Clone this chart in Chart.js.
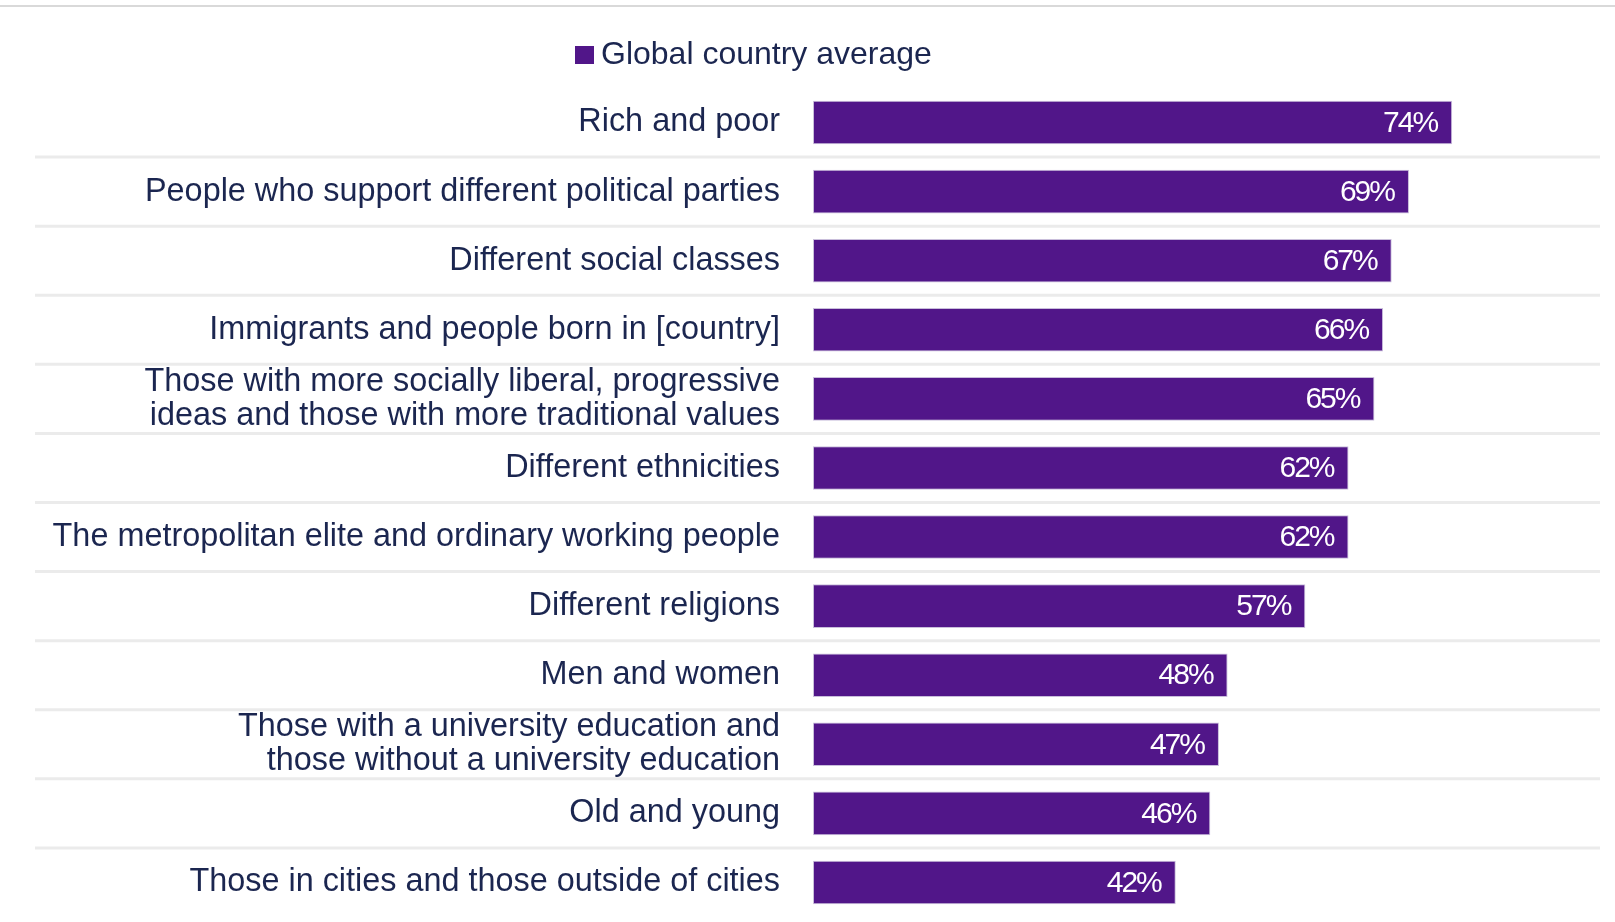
<!DOCTYPE html>
<html>
<head>
<meta charset="utf-8">
<script src="https://cdn.jsdelivr.net/npm/chart.js@4"></script>
<style>
  html, body { margin: 0; padding: 0; background: #ffffff; }
  #wrap { width: 1615px; height: 922px; position: relative; }
</style>
</head>
<body>
<div id="wrap"><canvas id="c"></canvas></div>
<script>
const seriesName = "Global country average";
const categories = [
  "Rich and poor",
  "People who support different political parties",
  "Different social classes",
  "Immigrants and people born in [country]",
  ["Those with more socially liberal, progressive", "ideas and those with more traditional values"],
  "Different ethnicities",
  "The metropolitan elite and ordinary working people",
  "Different religions",
  "Men and women",
  ["Those with a university education and", "those without a university education"],
  "Old and young",
  "Those in cities and those outside of cities"
];
const values = [74, 69, 67, 66, 65, 62, 62, 57, 48, 47, 46, 42];

const BAR = "#511689";
const TEXT = "#1b2650";
const FONT = "'Liberation Sans', Arial, sans-serif";

const decor = {
  id: "decor",
  beforeDatasetsDraw(chart) {
    const ctx = chart.ctx;
    const y = chart.scales.y;
    ctx.save();
    // top rule
    ctx.strokeStyle = "#d9d9d9";
    ctx.lineWidth = 2;
    ctx.beginPath();
    ctx.moveTo(0, 6);
    ctx.lineTo(chart.width, 6);
    ctx.stroke();
    // row separators
    ctx.strokeStyle = "#ebebeb";
    ctx.lineWidth = 3;
    for (let i = 0; i < categories.length - 1; i++) {
      const yy = (y.getPixelForValue(i) + y.getPixelForValue(i + 1)) / 2;
      ctx.beginPath();
      ctx.moveTo(35, yy);
      ctx.lineTo(1600, yy);
      ctx.stroke();
    }
    ctx.restore();
  },
  afterDatasetsDraw(chart) {
    const ctx = chart.ctx;
    ctx.save();
    // value labels
    const meta = chart.getDatasetMeta(0);
    ctx.fillStyle = "#ffffff";
    ctx.font = "30px " + FONT;
    ctx.textAlign = "right";
    ctx.textBaseline = "middle";
    try { ctx.letterSpacing = "-2px"; } catch (e) {}
    meta.data.forEach((bar, i) => {
      ctx.fillText(values[i] + "%", bar.x - 15, bar.y + 1);
    });
    try { ctx.letterSpacing = "0px"; } catch (e) {}
    // legend
    const ds = chart.data.datasets[0];
    ctx.fillStyle = ds.backgroundColor;
    ctx.fillRect(575, 46, 19, 18);
    ctx.fillStyle = TEXT;
    ctx.font = "32px " + FONT;
    ctx.textAlign = "left";
    ctx.fillText(ds.label, 601, 55);
    ctx.restore();
  }
};

new Chart(document.getElementById("c"), {
  type: "bar",
  data: {
    labels: categories,
    datasets: [{
      label: seriesName,
      data: values,
      backgroundColor: BAR,
      borderColor: "#c9bedb",
      borderWidth: 1,
      borderSkipped: false,
      barPercentage: 0.63,
      categoryPercentage: 1.0
    }]
  },
  plugins: [decor],
  options: {
    indexAxis: "y",
    responsive: true,
    maintainAspectRatio: false,
    animation: false,
    layout: { padding: { top: 88, bottom: 5, left: 0, right: 16 } },
    plugins: {
      legend: { display: false },
      tooltip: { enabled: false }
    },
    scales: {
      x: {
        display: false,
        min: 0,
        max: 91
      },
      y: {
        afterFit(scale) {
          scale.width = 813;
          scale.paddingTop = 0;
          scale.paddingBottom = 0;
        },
        grid: { display: false, drawTicks: false },
        border: { display: false },
        ticks: {
          autoSkip: false,
          color: TEXT,
          padding: 33,
          font: { family: FONT, size: 32.4, lineHeight: 1.06 }
        }
      }
    }
  }
});
</script>
</body>
</html>
